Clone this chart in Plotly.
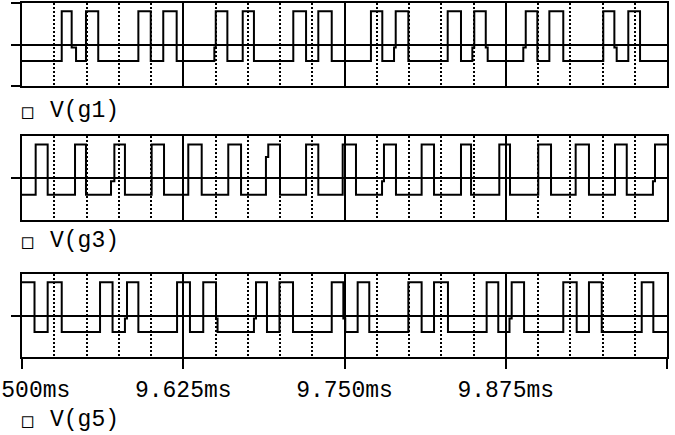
import plotly.graph_objects as go

# ---- data (time in ms, levels in V) ----
HIGH, LOW, MID, KINK = 16, -8, -1.5, 10

g1_start = LOW
g1_t = [9.5308, 9.5385, 9.5419, 9.5496, 9.5591, 9.5902, 9.5998, 9.6095, 9.6199,
        9.6491, 9.6502, 9.6592, 9.6711, 9.6798, 9.7103, 9.7202, 9.7297, 9.7401,
        9.7705, 9.7793, 9.7884, 9.7897, 9.7995, 9.8300, 9.8403, 9.8491, 9.8506,
        9.8595, 9.8610, 9.8886, 9.8905, 9.8995, 9.9088, 9.9196, 9.9506, 9.9592,
        9.9610, 9.9700, 9.9791]
g1_v = [HIGH, MID, LOW, HIGH, LOW, HIGH, LOW, HIGH, LOW,
        MID, HIGH, LOW, HIGH, LOW, HIGH, LOW, HIGH, LOW,
        HIGH, LOW, MID, HIGH, LOW, HIGH, LOW, MID, HIGH,
        MID, LOW, MID, HIGH, LOW, HIGH, LOW, HIGH, MID,
        LOW, HIGH, LOW]

g3_start = LOW
g3_t = [9.5106, 9.5199, 9.5411, 9.5496, 9.5690, 9.5716, 9.5798, 9.6005, 9.6101,
        9.6289, 9.6393, 9.6599, 9.6698, 9.6891, 9.6909, 9.7000, 9.7202, 9.7297,
        9.7486, 9.7589, 9.7791, 9.7806, 9.7899, 9.8098, 9.8194, 9.8403, 9.8481,
        9.8700, 9.8783, 9.9002, 9.9101, 9.9292, 9.9395, 9.9597, 9.9688, 9.9891,
        9.9907]
g3_v = [HIGH, LOW, HIGH, LOW, MID, HIGH, LOW, HIGH, LOW,
        HIGH, LOW, HIGH, LOW, KINK, HIGH, LOW, HIGH, LOW,
        HIGH, LOW, MID, HIGH, LOW, HIGH, LOW, HIGH, LOW,
        HIGH, LOW, HIGH, LOW, HIGH, LOW, HIGH, LOW, MID,
        HIGH]

g5_start = HIGH
g5_t = [9.5097, 9.5199, 9.5308, 9.5605, 9.5702, 9.5798, 9.5814, 9.5902, 9.6202,
        9.6302, 9.6405, 9.6504, 9.6516, 9.6798, 9.6814, 9.6899, 9.6996, 9.7101,
        9.7401, 9.7491, 9.7506, 9.7602, 9.7692, 9.7995, 9.8098, 9.8194, 9.8302,
        9.8602, 9.8692, 9.8779, 9.8796, 9.8892, 9.9196, 9.9300, 9.9395, 9.9494,
        9.9804, 9.9894]
g5_v = [LOW, HIGH, LOW, HIGH, LOW, MID, HIGH, LOW, HIGH,
        LOW, HIGH, MID, LOW, MID, HIGH, LOW, HIGH, LOW,
        HIGH, MID, LOW, HIGH, LOW, HIGH, LOW, HIGH, LOW,
        HIGH, LOW, MID, HIGH, LOW, HIGH, LOW, HIGH, LOW,
        HIGH, LOW]

t_start, t_end = 9.5, 10.0
x_tickvals = [9.5, 9.625, 9.75, 9.875, 10.0]
x_ticktext = ["9.500ms", "9.625ms", "9.750ms", "9.875ms", ""]
labels = ["V(g1)", "V(g3)", "V(g5)"]

signals = [(g1_start, g1_t, g1_v), (g3_start, g3_t, g3_v), (g5_start, g5_t, g5_v)]

# ---- figure ----
W, H = 675, 435
ML, MR, MT, MB = 22, 8, 3, 78
plot_h = H - MT - MB
plot_w = W - ML - MR


def py(ypix):
    return (H - MB - ypix) / plot_h


def px(xpix):
    return (xpix - ML) / plot_w


domains = [(py(86), py(3)), (py(220), py(136)), (py(357), py(274))]
FONT = "Liberation Mono, Courier New, DejaVu Sans Mono, monospace"

fig = go.Figure()
for i, (s, ts, vs) in enumerate(signals):
    xs = [t_start] + list(ts) + [t_end]
    ys = [s] + list(vs) + [vs[-1]]
    suffix = "" if i == 0 else str(i + 1)
    fig.add_trace(go.Scatter(x=xs, y=ys, mode="lines", line_shape="hv",
                             line=dict(color="black", width=2),
                             xaxis="x" + suffix, yaxis="y" + suffix,
                             showlegend=False, hoverinfo="skip"))

layout = dict(width=W, height=H, margin=dict(l=ML, r=MR, t=MT, b=MB, pad=0, autoexpand=False),
              paper_bgcolor="white", plot_bgcolor="white", showlegend=False,
              font=dict(family=FONT, size=23, color="black"))

for i in range(3):
    suffix = "" if i == 0 else str(i + 1)
    last = i == 2
    layout["xaxis" + suffix] = dict(
        domain=[0, 1], anchor="y" + suffix, range=[t_start, t_end],
        tickvals=x_tickvals, ticktext=x_ticktext, showticklabels=last,
        ticklabeloverflow="allow", automargin=False,
        ticks="outside" if last else "", ticklen=10, tickwidth=2, tickcolor="black",
        showline=True, mirror=True, linecolor="black", linewidth=2,
        showgrid=True, gridcolor="black", gridwidth=1.5, zeroline=False,
        tickfont=dict(family=FONT, size=23, color="black"),
        minor=dict(dtick=0.025, tick0=t_start, showgrid=True, gridcolor="black",
                   gridwidth=1.5, griddash="2px,2px", ticks=""),
    )
    layout["yaxis" + suffix] = dict(
        domain=list(domains[i]), anchor="x" + suffix, range=[-20, 20],
        tickvals=[-20, 0, 20] if i == 0 else [0], showticklabels=False,
        automargin=False,
        ticks="outside", ticklen=9, tickwidth=1.5, tickcolor="black",
        showline=True, mirror=True, linecolor="black", linewidth=2,
        showgrid=False, zeroline=True, zerolinecolor="black", zerolinewidth=1.5,
    )

fig.update_layout(**layout)

label_y = [111, 241, 420]
for lab, ly in zip(labels, label_y):
    fig.add_annotation(text="\u25a1", x=px(20), y=py(ly), xref="paper", yref="paper",
                       xanchor="left", yanchor="middle", showarrow=False,
                       font=dict(family="DejaVu Sans Mono", size=19, color="black"))
    fig.add_annotation(text=lab, x=px(48), y=py(ly), xref="paper", yref="paper",
                       xanchor="left", yanchor="middle", showarrow=False,
                       font=dict(family=FONT, size=23, color="black"))

fig.write_html("out.html")
